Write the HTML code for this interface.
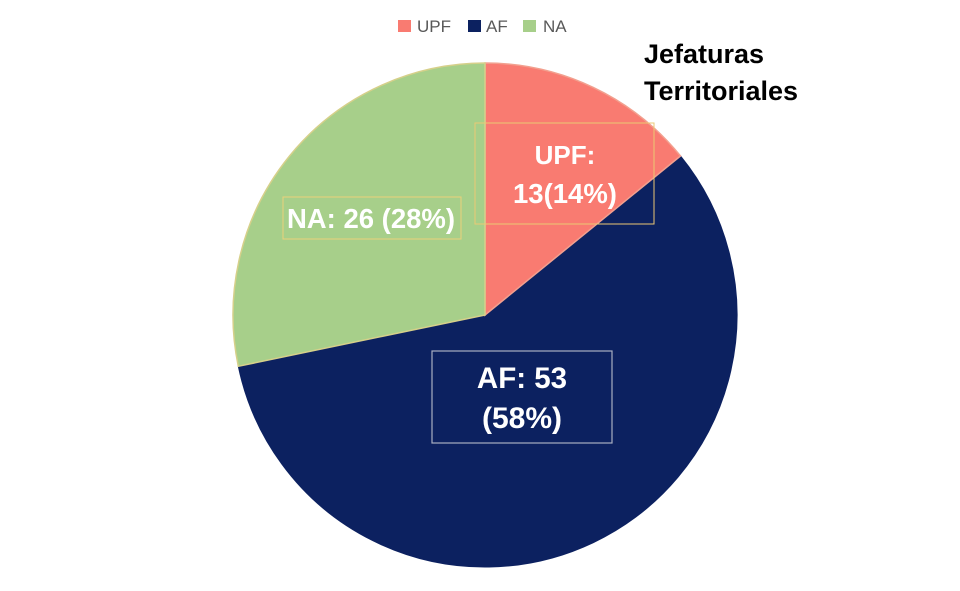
<!DOCTYPE html>
<html>
<head>
<meta charset="utf-8">
<style>
html,body{margin:0;padding:0;background:#fff;}
svg{display:block;}
text{font-family:"Liberation Sans",Arial,sans-serif;}
</style>
</head>
<body>
<svg width="960" height="591" viewBox="0 0 960 591" xmlns="http://www.w3.org/2000/svg">
<rect width="960" height="591" fill="#ffffff"/>
<!-- Legend -->
<rect x="398" y="20" width="13" height="12" fill="#F97B71"/>
<text x="417" y="32" font-size="17" fill="#595959">UPF</text>
<rect x="468" y="20" width="13" height="12" fill="#0C2160"/>
<text x="486" y="32" font-size="17" fill="#595959">AF</text>
<rect x="523" y="20" width="13" height="12" fill="#A7CF8A"/>
<text x="543" y="32" font-size="17" fill="#595959">NA</text>
<!-- Title -->
<text x="644" y="63" font-size="27" font-weight="bold" fill="#000">Jefaturas</text>
<text x="644" y="100" font-size="27" font-weight="bold" fill="#000">Territoriales</text>
<!-- Pie -->
<path d="M485,315 L680.5,156 A252,252 0 1 1 238.3,366.3 Z" fill="#0C2160" stroke="#0C2160" stroke-width="1"/>
<path d="M485,315 L485,63 A252,252 0 0 1 680.5,156 Z" fill="#F97B71" stroke="#F2A08F" stroke-width="1.5"/>
<path d="M485,315 L238.3,366.3 A252,252 0 0 1 485,63 Z" fill="#A7CF8A" stroke="#D6D08A" stroke-width="1.5"/>
<!-- Label boxes -->
<rect x="475" y="123" width="179" height="101" fill="none" stroke="#EBC874" stroke-width="1"/>
<rect x="283" y="197" width="178" height="42" fill="none" stroke="#EBD27A" stroke-width="1"/>
<rect x="432" y="351" width="180" height="92" fill="none" stroke="#A8AEC2" stroke-width="1.2"/>
<!-- Labels -->
<text x="565" y="164" font-size="26" font-weight="bold" fill="#fff" text-anchor="middle">UPF:</text>
<text x="565" y="203" font-size="27.5" font-weight="bold" fill="#fff" text-anchor="middle">13(14%)</text>
<text x="371" y="228" font-size="27.5" font-weight="bold" fill="#fff" text-anchor="middle">NA: 26 (28%)</text>
<text x="522" y="388" font-size="29.5" font-weight="bold" fill="#fff" text-anchor="middle">AF: 53</text>
<text x="522" y="428" font-size="30" font-weight="bold" fill="#fff" text-anchor="middle">(58%)</text>
</svg>
</body>
</html>
